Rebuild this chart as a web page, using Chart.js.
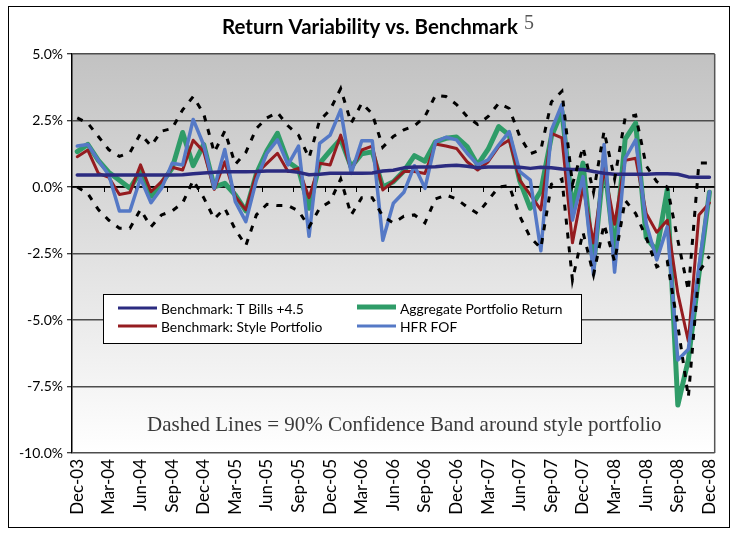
<!DOCTYPE html>
<html><head><meta charset="utf-8">
<script src="https://cdn.jsdelivr.net/npm/chart.js@4.4.1/dist/chart.umd.min.js"></script>
<style>html,body{margin:0;padding:0;background:#fff;}#wrap{width:736px;height:534px;position:relative;}</style>
</head><body><div id="wrap"><canvas id="c" width="736" height="534"></canvas></div>
<script>
const months = ['Dec-03','Jan-04','Feb-04','Mar-04','Apr-04','May-04','Jun-04','Jul-04','Aug-04','Sep-04','Oct-04','Nov-04','Dec-04',
'Jan-05','Feb-05','Mar-05','Apr-05','May-05','Jun-05','Jul-05','Aug-05','Sep-05','Oct-05','Nov-05','Dec-05',
'Jan-06','Feb-06','Mar-06','Apr-06','May-06','Jun-06','Jul-06','Aug-06','Sep-06','Oct-06','Nov-06','Dec-06',
'Jan-07','Feb-07','Mar-07','Apr-07','May-07','Jun-07','Jul-07','Aug-07','Sep-07','Oct-07','Nov-07','Dec-07',
'Jan-08','Feb-08','Mar-08','Apr-08','May-08','Jun-08','Jul-08','Aug-08','Sep-08','Oct-08','Nov-08','Dec-08'];

const tBills = [0.45,0.45,0.45,0.45,0.45,0.45,0.45,0.45,0.45,0.45,
 0.46,0.5,0.53,0.55,0.57,0.57,0.57,0.58,0.6,0.6,
 0.6,0.55,0.46,0.48,0.52,0.52,0.52,0.52,0.53,0.6,
 0.63,0.72,0.75,0.75,0.76,0.8,0.82,0.78,0.72,0.75,
 0.75,0.75,0.74,0.7,0.74,0.72,0.68,0.66,0.66,0.58,
 0.52,0.48,0.48,0.48,0.48,0.5,0.5,0.48,0.38,0.37,
 0.37];
const stylePortfolio = [1.14,1.39,0.51,0.36,-0.28,-0.21,0.83,-0.18,0.2,0.74,
 0.64,1.76,1.33,-0.09,0.95,-0.36,-0.86,0.51,0.89,1.27,
 0.58,0.7,-0.4,0.89,0.83,1.95,0.64,1.39,1.54,-0.11,
 0.2,0.58,0.58,0.51,1.62,1.54,1.45,0.95,0.64,0.95,
 1.52,1.77,0.26,-0.3,-0.86,2.02,1.85,-2.1,0.0,-2.1,
 0.7,-1.4,1.0,1.08,-1.0,-1.7,-1.25,-4.0,-5.8,-1.05,
 -0.6];
const aggregateReturn = [1.33,1.6,1.0,0.55,0.25,-0.05,0.58,-0.35,0.14,0.7,
 2.05,0.8,1.6,0.0,0.14,-0.3,-0.9,0.5,1.36,2.02,
 0.95,0.67,-0.8,0.89,1.36,1.8,0.75,1.25,1.32,0.0,
 0.2,0.6,1.18,0.97,1.7,1.83,1.88,1.52,0.83,1.42,
 2.27,1.95,0.23,-0.8,-0.15,1.9,2.85,-0.8,0.9,-3.0,
 1.0,-2.5,1.8,2.4,-1.9,-2.4,-0.1,-8.2,-6.5,-3.3,
 -0.2];
const hfrFof = [1.54,1.6,1.0,0.45,-0.9,-0.9,0.33,-0.59,-0.05,0.89,
 0.83,2.54,1.58,-0.05,1.41,-0.55,-1.3,0.26,1.27,1.77,
 0.83,1.54,-1.85,1.64,1.95,2.9,0.51,1.74,1.74,-2.0,
 -0.61,-0.2,0.8,-0.05,1.7,1.87,1.77,1.27,0.83,1.02,
 1.58,2.08,0.58,0.26,-2.4,2.14,3.1,-1.24,0.39,-3.3,
 1.6,-3.2,1.08,1.77,-1.37,-2.74,-1.5,-6.5,-6.1,-3.0,
 -0.18];
const bandUpper = [2.6,2.4,1.9,1.4,1.15,1.3,2.0,1.55,2.1,2.2,
 2.9,3.4,2.75,1.3,2.1,0.85,1.3,2.2,2.6,2.8,
 2.3,1.95,1.1,2.5,2.9,3.7,2.4,3.15,2.75,1.5,
 1.9,2.15,2.3,2.65,3.45,3.4,3.1,2.65,2.35,2.65,
 3.15,2.95,1.9,1.25,1.4,3.2,3.6,0.1,1.5,-0.2,
 2.1,0.3,2.6,2.7,0.8,0.2,0.0,-2.0,-3.9,0.9,
 0.9];
const bandLower = [0.0,-0.25,-0.85,-1.25,-1.55,-1.55,-0.85,-1.5,-1.05,-0.9,
 -0.6,0.25,-0.4,-1.2,-0.8,-1.6,-2.2,-1.05,-0.65,-0.7,
 -0.7,-0.9,-1.5,-0.8,-0.55,0.3,-1.05,-0.4,-0.4,-1.1,
 -1.35,-1.1,-1.05,-1.35,-0.45,-0.3,-0.45,-0.75,-1.0,-0.5,
 0.0,0.05,-1.1,-1.9,-2.3,0.1,0.3,-3.5,-1.7,-3.3,
 -1.4,-2.8,-0.5,-1.0,-1.9,-3.0,-2.8,-5.2,-7.9,-3.2,
 -2.6];
const yTicks = [5, 2.5, 0, -2.5, -5, -7.5, -10];

const titleText = 'Return Variability vs. Benchmark';
const titleNote = '5';
const noteText = 'Dashed Lines = 90% Confidence Band around style portfolio';
const legendItems = [
  {label:'Benchmark: T Bills +4.5', color:'#2b2b80', w:3},
  {label:'Benchmark: Style Portfolio', color:'#951c20', w:3},
  {label:'Aggregate Portfolio Return', color:'#2f9c68', w:5},
  {label:'HFR FOF', color:'#5579c6', w:3}
];

function fitSize(ctx, text, weight, family, target){
  ctx.font = weight + ' 20px ' + family;
  return 20 * target / ctx.measureText(text).width;
}

const decor = {
  id:'decor',
  beforeDraw(chart){
    const ctx = chart.ctx, a = chart.chartArea;
    ctx.save();
    ctx.fillStyle = '#fff';
    ctx.fillRect(0,0,chart.width,chart.height);
    const g = ctx.createLinearGradient(0,a.top,0,a.bottom);
    g.addColorStop(0,'#c2c2c2');
    g.addColorStop(1,'#ffffff');
    ctx.fillStyle = g;
    ctx.fillRect(a.left,a.top,a.right-a.left,a.bottom-a.top);
    ctx.strokeStyle = '#000'; ctx.lineWidth = 1;
    ctx.strokeRect(8.5,6.5,721,521);
    ctx.restore();
  },
  beforeDatasetsDraw(chart){
    const ctx = chart.ctx, a = chart.chartArea, ys = chart.scales.y;
    const y0 = ys.getPixelForValue(0);
    const cw = (a.right - a.left) / months.length;
    ctx.save();
    ctx.strokeStyle = '#555'; ctx.lineWidth = 1.5;
    ctx.beginPath(); ctx.moveTo(a.right, a.top); ctx.lineTo(a.right, a.bottom); ctx.stroke();
    ctx.strokeStyle = '#000'; ctx.lineWidth = 1.5;
    ctx.beginPath(); ctx.moveTo(a.left, y0); ctx.lineTo(a.right, y0); ctx.stroke();
    ctx.lineWidth = 1;
    for (let m = 3; m < months.length; m += 3){
      const x = Math.round(a.left + m*cw) + 0.5;
      ctx.beginPath(); ctx.moveTo(x, y0); ctx.lineTo(x, y0+5); ctx.stroke();
    }
    ctx.restore();
  },
  afterDraw(chart){
    const ctx = chart.ctx;
    ctx.save();
    const ts = fitSize(ctx, titleText, 'bold', 'Lato', 296);
    ctx.font = 'bold ' + ts + 'px Lato';
    ctx.fillStyle = '#000'; ctx.textBaseline = 'alphabetic'; ctx.textAlign = 'left';
    ctx.fillText(titleText, 222, 34);
    ctx.font = '20px "Liberation Serif"';
    ctx.fillStyle = '#555';
    ctx.fillText(titleNote, 524, 29);
    ctx.fillStyle = '#fff'; ctx.strokeStyle = '#000'; ctx.lineWidth = 1;
    ctx.fillRect(103.5,294.5,478,49); ctx.strokeRect(103.5,294.5,478,49);
    const ls = fitSize(ctx, legendItems[0].label, 'normal', 'Lato', 143);
    ctx.font = ls + 'px Lato';
    const pos = [[118,308,161,314],[118,326,161,332],[357,307,400,314],[357,326,400,332]];
    legendItems.forEach((it,i)=>{
      const p = pos[i];
      ctx.strokeStyle = it.color; ctx.lineWidth = it.w; ctx.lineCap='butt';
      ctx.beginPath(); ctx.moveTo(p[0],p[1]); ctx.lineTo(p[0]+39,p[1]); ctx.stroke();
      ctx.fillStyle = '#000';
      ctx.fillText(it.label, p[2], p[3]);
    });
    const ns = fitSize(ctx, noteText, 'normal', '"Liberation Serif"', 515);
    ctx.font = ns + 'px "Liberation Serif"';
    ctx.fillStyle = '#3a3a3a';
    ctx.fillText(noteText, 147, 431);
    ctx.restore();
  }
};

function solid(label, data, color, w){
  return {label, data, borderColor:color, backgroundColor:color, borderWidth:w, pointRadius:0, tension:0, fill:false,
    borderJoinStyle:'round', borderCapStyle:'round'};
}
function dashed(label, data){
  return {label, data, borderColor:'#000', backgroundColor:'#000', borderWidth:3, borderDash:[6,8], pointRadius:0, tension:0, fill:false};
}

new Chart(document.getElementById('c'), {
  type:'line',
  data:{labels:months, datasets:[
    dashed('Upper band', bandUpper),
    dashed('Lower band', bandLower),
    solid('Benchmark: T Bills +4.5', tBills, '#2b2b80', 3.5),
    solid('HFR FOF', hfrFof, '#5579c6', 3.5),
    solid('Benchmark: Style Portfolio', stylePortfolio, '#951c20', 3),
    solid('Aggregate Portfolio Return', aggregateReturn, '#2f9c68', 5)
  ]},
  options:{
    responsive:false, animation:false, devicePixelRatio:1,
    layout:{padding:{top:54,right:21,bottom:0,left:0}},
    plugins:{legend:{display:false}, title:{display:false}, tooltip:{enabled:false}},
    scales:{
      x:{type:'category', offset:true,
        grid:{display:false, drawTicks:false}, border:{display:false},
        afterFit(s){ s.height = 81; },
        ticks:{autoSkip:false, maxRotation:90, minRotation:90, padding:6, color:'#000',
          font:{family:'Lato', size:17},
          callback:(v,i)=> i%3===0 ? months[i] : ''}},
      y:{min:-10, max:5,
        afterFit(s){ s.width = 72; },
        afterBuildTicks(s){ s.ticks = yTicks.map(v=>({value:v})); },
        ticks:{color:'#000', padding:4, font:{family:'Lato', size:14},
          callback:v=> v.toFixed(1)+'%'},
        grid:{color:c=> (c.tick && c.tick.value===0) ? '#000' : '#4d4d4d', lineWidth:1.5, tickLength:5, tickColor:'#000', tickWidth:1},
        border:{display:true, color:'#000', width:1.5}}
    }
  },
  plugins:[decor]
});
</script></body></html>
